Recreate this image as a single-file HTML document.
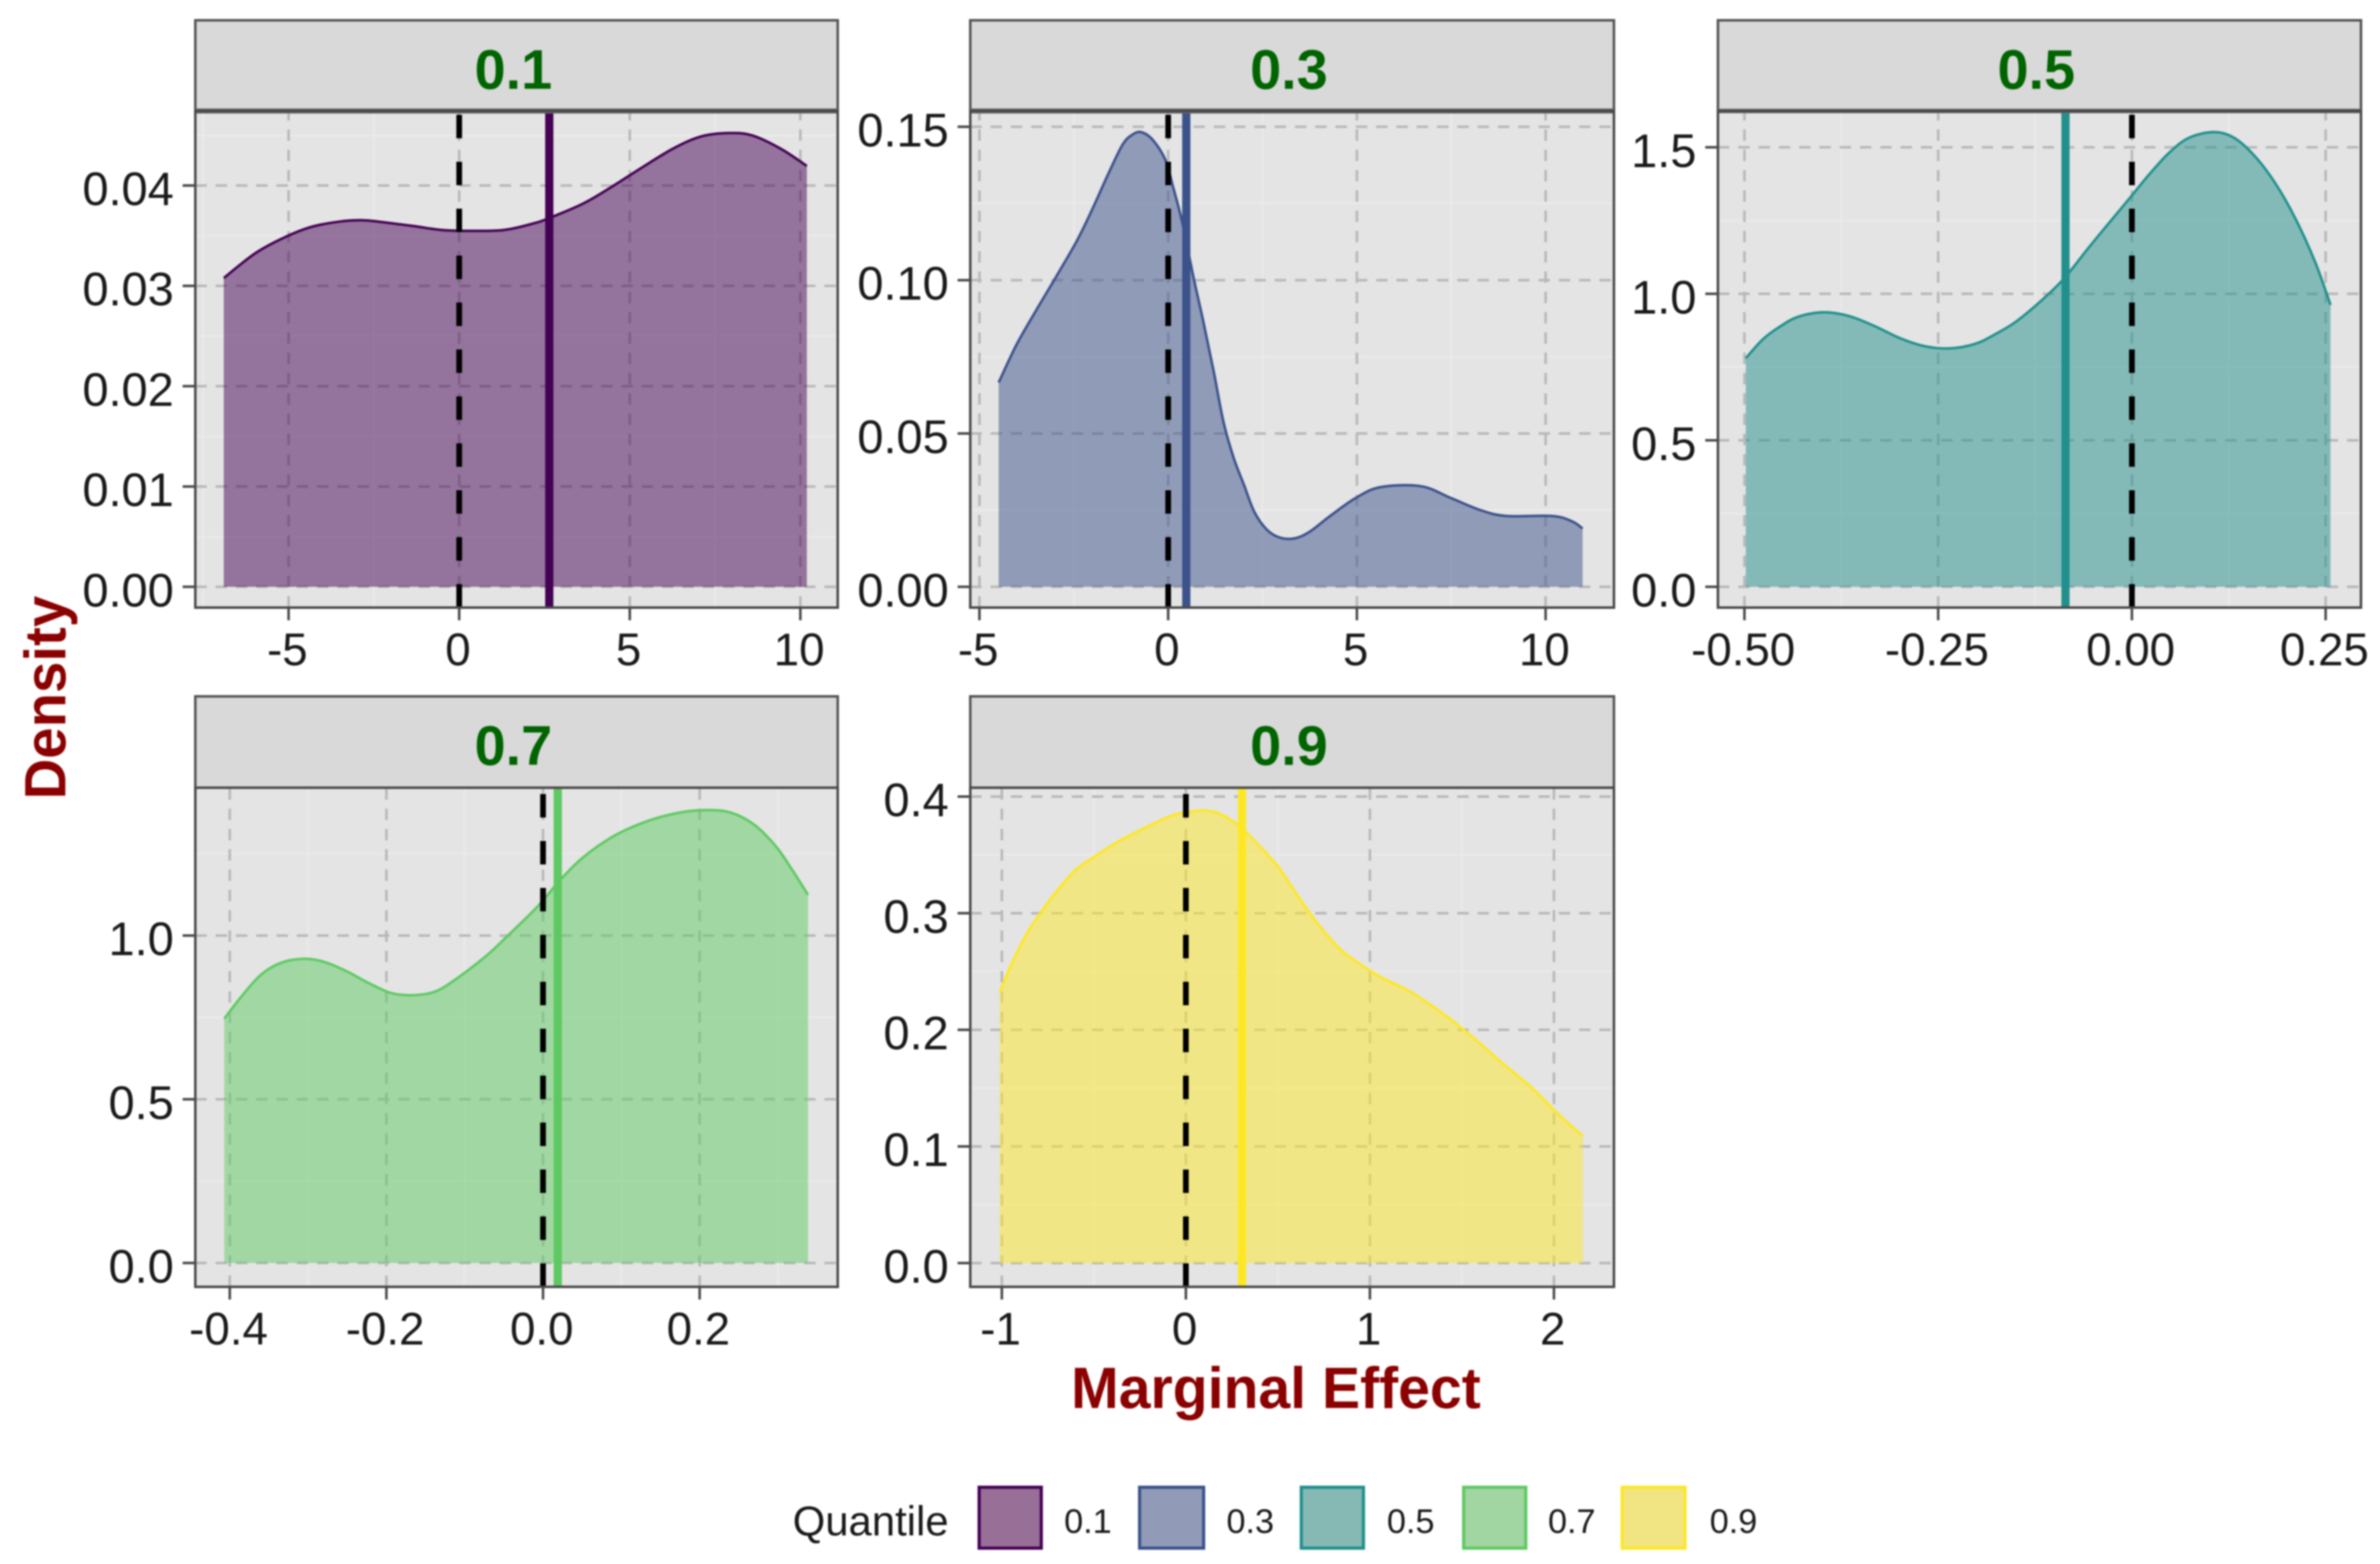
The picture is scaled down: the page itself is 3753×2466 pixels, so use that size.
<!DOCTYPE html>
<html lang="en">
<head>
<meta charset="utf-8">
<title>Marginal effect density by quantile</title>
<style>
  html, body { margin: 0; padding: 0; background: #ffffff; }
  svg { display: block; font-family: "Liberation Sans", Arial, sans-serif; filter: blur(1.2px); }
</style>
</head>
<body>
<svg id="chart" xmlns="http://www.w3.org/2000/svg" width="3753" height="2466" viewBox="0 0 3753 2466">
  <rect x="0" y="0" width="3753" height="2466" fill="#ffffff"/>
  <g id="panels"></g>

  <text transform="translate(103 1100) rotate(-90)" text-anchor="middle" font-size="92" font-weight="700" fill="#8b0000" textLength="321" lengthAdjust="spacingAndGlyphs">Density</text>
  <text x="2012" y="2220" text-anchor="middle" font-size="92" font-weight="700" fill="#8b0000" textLength="646" lengthAdjust="spacingAndGlyphs">Marginal Effect</text>

  <g>
    <text x="1250" y="2421" font-size="66" fill="#1a1a1a">Quantile</text>
    <g>
      <rect x="1544" y="2345" width="98" height="96" fill="#976f97" stroke="#440154" stroke-width="5"/>
      <text x="1678" y="2417" font-size="54" fill="#1a1a1a">0.1</text>
    </g>
    <g>
      <rect x="1797" y="2345" width="101" height="96" fill="#919bb7" stroke="#3b528b" stroke-width="5"/>
      <text x="1934" y="2417" font-size="54" fill="#1a1a1a">0.3</text>
    </g>
    <g>
      <rect x="2052" y="2345" width="98" height="96" fill="#86b8b4" stroke="#21908c" stroke-width="5"/>
      <text x="2187" y="2417" font-size="54" fill="#1a1a1a">0.5</text>
    </g>
    <g>
      <rect x="2308" y="2345" width="98" height="96" fill="#a1d5a1" stroke="#5ec962" stroke-width="5"/>
      <text x="2441" y="2417" font-size="54" fill="#1a1a1a">0.7</text>
    </g>
    <g>
      <rect x="2558" y="2345" width="99" height="96" fill="#f1e483" stroke="#fde725" stroke-width="5"/>
      <text x="2696" y="2417" font-size="54" fill="#1a1a1a">0.9</text>
    </g>
  </g>
</svg>

<script>
// ---- Panel 0.1 ----
const q1X = [-6.90,-5.99,-5.16,-4.33,-3.50,-2.84,-2.17,-1.34,-0.51,0.32,1.31,2.14,2.64,3.63,4.46,5.29,6.29,7.12,7.95,8.61,9.44,10.19];
const q1Y = [.03078,.03322,.03477,.03588,.03641,.03654,.03632,.03596,.03557,.03548,.03557,.03619,.03676,.03820,.03985,.04165,.04372,.04492,.04523,.04497,.04364,.04195];
const q1XTicks = [-5,0,5,10];
const q1XLabels = ["-5","0","5","10"];
const q1YTicks = [0,0.01,0.02,0.03,0.04];
const q1YLabels = ["0.00","0.01","0.02","0.03","0.04"];
const q1Marginal = 2.64;
const q1XDomain = [-7.734,11.095];
const q1YDomain = [-0.00207,0.04743];

// ---- Panel 0.3 ----
const q3X = [-4.49,-4.02,-3.48,-2.95,-2.41,-2.01,-1.61,-1.21,-0.94,-0.70,-0.40,-0.07,0.13,0.37,0.67,0.94,1.21,1.47,1.74,2.01,2.28,2.61,2.95,3.35,3.75,4.29,4.96,5.62,6.70,7.50,8.30,8.97,10.18,10.71,10.98];
const q3Y = [.0666,.0789,.0905,.1015,.1130,.1231,.1340,.1441,.1475,.1482,.1456,.1391,.1304,.1190,.1010,.0860,.0700,.0535,.0419,.0332,.0245,.0187,.0161,.0158,.0180,.0231,.0289,.0325,.0328,.0289,.0249,.0231,.0231,.0213,.0190];
const q3XTicks = [-5,0,5,10];
const q3XLabels = ["-5","0","5","10"];
const q3YTicks = [0,0.05,0.10,0.15];
const q3YLabels = ["0.00","0.05","0.10","0.15"];
const q3Marginal = 0.48;
const q3XDomain = [-5.243,11.81];
const q3YDomain = [-0.00676,0.15515];

// ---- Panel 0.5 ----
const q5X = [-.4983,-.4761,-.4531,-.4303,-.3976,-.3649,-.3322,-.2995,-.2668,-.2341,-.2014,-.1752,-.1491,-.1164,-.0870,-.0575,-.0314,-.0052,.0209,.0471,.0732,.1059,.1321,.1582,.1844,.2106,.2367,.2563];
const q5Y = [.780,.845,.890,.922,.937,.924,.890,.849,.821,.814,.830,.864,.906,.978,1.054,1.152,1.236,1.319,1.403,1.479,1.532,1.552,1.532,1.471,1.380,1.259,1.107,.962];
const q5XTicks = [-0.5,-0.25,0,0.25];
const q5XLabels = ["-0.50","-0.25","0.00","0.25"];
const q5YTicks = [0,0.5,1,1.5];
const q5YLabels = ["0.0","0.5","1.0","1.5"];
const q5Marginal = -0.0857;
const q5XDomain = [-0.5342,0.2956];
const q5YDomain = [-0.0708,1.624];

// ---- Panel 0.7 ----
const q7X = [-.4071,-.3861,-.3608,-.3355,-.3066,-.2813,-.2524,-.2234,-.1945,-.1656,-.1367,-.1077,-.0716,-.0427,-.0065,.0224,.0513,.0875,.1236,.1598,.1960,.2357,.2683,.2972,.3189,.3384];
const q7Y = [.746,.811,.879,.916,.929,.921,.893,.856,.825,.818,.830,.873,.940,1.005,1.090,1.171,1.239,1.300,1.341,1.368,1.382,1.378,1.341,1.273,1.198,1.124];
const q7XTicks = [-0.4,-0.2,0,0.2];
const q7XLabels = ["-0.4","-0.2","0.0","0.2"];
const q7YTicks = [0,0.5,1];
const q7YLabels = ["0.0","0.5","1.0"];
const q7Marginal = 0.0188;
const q7XDomain = [-0.4440,0.3763];
const q7YDomain = [-0.0728,1.4515];

// ---- Panel 0.9 ----
const q9X = [-1.011,-.948,-.865,-.783,-.701,-.604,-.508,-.371,-.234,-.096,-.014,.096,.179,.288,.398,.508,.618,.728,.838,.948,1.058,1.223,1.387,1.552,1.717,1.882,2.019,2.157];
const q9Y = [.2323,.2562,.2822,.3017,.3190,.3364,.3472,.3611,.3723,.3825,.3862,.3880,.3855,.3750,.3580,.3385,.3125,.2887,.2692,.2562,.2453,.2323,.2150,.1946,.1717,.1500,.1283,.1088];
const q9XTicks = [-1,0,1,2];
const q9XLabels = ["-1","0","1","2"];
const q9YTicks = [0,0.1,0.2,0.3,0.4];
const q9YLabels = ["0.0","0.1","0.2","0.3","0.4"];
const q9Marginal = 0.305;
const q9XDomain = [-1.1716,2.326];
const q9YDomain = [-0.0204,0.4076];

// ---- Panel layout ----
const panels = [
  { id:"0.1", color:"#440154", x:q1X, y:q1Y, xTicks:q1XTicks, xLabels:q1XLabels, yTicks:q1YTicks, yLabels:q1YLabels, marginal:q1Marginal, xDomain:q1XDomain, yDomain:q1YDomain, left:308,  right:1321, stripTop:32,   top:175,  bottom:958,  stripRule:8 },
  { id:"0.3", color:"#3b528b", x:q3X, y:q3Y, xTicks:q3XTicks, xLabels:q3XLabels, yTicks:q3YTicks, yLabels:q3YLabels, marginal:q3Marginal, xDomain:q3XDomain, yDomain:q3YDomain, left:1530, right:2545, stripTop:32,   top:175,  bottom:958,  stripRule:8 },
  { id:"0.5", color:"#21908c", x:q5X, y:q5Y, xTicks:q5XTicks, xLabels:q5XLabels, yTicks:q5YTicks, yLabels:q5YLabels, marginal:q5Marginal, xDomain:q5XDomain, yDomain:q5YDomain, left:2709, right:3723, stripTop:32,   top:175,  bottom:958,  stripRule:7 },
  { id:"0.7", color:"#5ec962", x:q7X, y:q7Y, xTicks:q7XTicks, xLabels:q7XLabels, yTicks:q7YTicks, yLabels:q7YLabels, marginal:q7Marginal, xDomain:q7XDomain, yDomain:q7YDomain, left:308,  right:1321, stripTop:1098, top:1242, bottom:2029, stripRule:4 },
  { id:"0.9", color:"#fde725", x:q9X, y:q9Y, xTicks:q9XTicks, xLabels:q9XLabels, yTicks:q9YTicks, yLabels:q9YLabels, marginal:q9Marginal, xDomain:q9XDomain, yDomain:q9YDomain, left:1530, right:2545, stripTop:1098, top:1242, bottom:2029, stripRule:4 }
];

const NS = "http://www.w3.org/2000/svg";
function make(parent, tag, props) {
  const node = document.createElementNS(NS, tag);
  for (const key in props) node.setAttribute(key, props[key]);
  parent.appendChild(node);
  return node;
}
function linear(domain, r0, r1) {
  return v => r0 + (v - domain[0]) / (domain[1] - domain[0]) * (r1 - r0);
}
function midpoints(ticks, domain) {
  const step = ticks[1] - ticks[0];
  const out = [];
  for (let v = ticks[0] - step / 2; v < domain[1]; v += step) {
    if (v > domain[0]) out.push(v);
  }
  return out;
}
function smoothPath(pts) {
  let d = "";
  for (let i = 0; i < pts.length - 1; i++) {
    const p0 = pts[Math.max(i - 1, 0)], p1 = pts[i], p2 = pts[i + 1], p3 = pts[Math.min(i + 2, pts.length - 1)];
    const c1x = p1[0] + (p2[0] - p0[0]) / 6, c1y = p1[1] + (p2[1] - p0[1]) / 6;
    const c2x = p2[0] - (p3[0] - p1[0]) / 6, c2y = p2[1] - (p3[1] - p1[1]) / 6;
    d += " C" + c1x.toFixed(1) + " " + c1y.toFixed(1) + " " + c2x.toFixed(1) + " " + c2y.toFixed(1) + " " + p2[0].toFixed(1) + " " + p2[1].toFixed(1);
  }
  return d;
}

const root = document.getElementById("panels");

panels.forEach(p => {
  const sx = linear(p.xDomain, p.left, p.right);
  const sy = linear(p.yDomain, p.bottom, p.top);
  const w = p.right - p.left;

  const g = make(root, "g", {});
  
  

  const bg = make(g, "rect", { x:p.left, y:p.top, width:w, height:p.bottom - p.top, fill:"#e4e4e4" });
  
  

  midpoints(p.xTicks, p.xDomain).forEach(v => {
    const el = make(g, "line", { x1:sx(v), x2:sx(v), y1:p.top, y2:p.bottom, stroke:"#eaeaea", "stroke-width":3 });
    
    
  });
  midpoints(p.yTicks, p.yDomain).forEach(v => {
    const el = make(g, "line", { x1:p.left, x2:p.right, y1:sy(v), y2:sy(v), stroke:"#eaeaea", "stroke-width":3 });
    
    
  });
  p.xTicks.forEach(v => {
    const el = make(g, "line", { x1:sx(v), x2:sx(v), y1:p.bottom, y2:p.top, stroke:"#b8b8b8", "stroke-width":4, "stroke-dasharray":"18 14" });
    
    
  });
  p.yTicks.forEach(v => {
    const el = make(g, "line", { x1:p.left, x2:p.right, y1:sy(v), y2:sy(v), stroke:"#b8b8b8", "stroke-width":4, "stroke-dasharray":"18 14" });
    
    
  });

  const pts = p.x.map((v, i) => [sx(v), sy(p.y[i])]);
  const curve = smoothPath(pts);
  const base = sy(0);
  const first = pts[0], last = pts[pts.length - 1];

  const area = make(g, "path", {
    d:"M" + first[0].toFixed(1) + " " + base.toFixed(1) + " L" + first[0].toFixed(1) + " " + first[1].toFixed(1) + curve + " L" + last[0].toFixed(1) + " " + base.toFixed(1) + " Z",
    fill:p.color, "fill-opacity":0.5
  });
  
  

  const line = make(g, "path", {
    d:"M" + first[0].toFixed(1) + " " + first[1].toFixed(1) + curve,
    fill:"none", stroke:p.color, "stroke-width":4
  });
  
  

  const zero = make(g, "line", { x1:sx(0), x2:sx(0), y1:p.bottom, y2:p.top, stroke:"#000000", "stroke-width":9, "stroke-dasharray":"37 37" });
  
  

  const mean = make(g, "line", { x1:sx(p.marginal), x2:sx(p.marginal), y1:p.bottom, y2:p.top, stroke:p.color, "stroke-width":13 });
  
  

  const strip = make(g, "rect", { x:p.left, y:p.stripTop, width:w, height:p.top - p.stripTop, fill:"#d9d9d9", stroke:"#555555", "stroke-width":4 });
  
  

  const rule = make(g, "line", { x1:p.left, x2:p.right, y1:p.top, y2:p.top, stroke:"#666666", "stroke-width":p.stripRule });
  
  

  const stripLabel = make(g, "text", { x:(p.left + p.right) / 2 - 5, y:p.stripTop + 108, "text-anchor":"middle", "font-size":88, "font-weight":700, fill:"#006400" });
  stripLabel.textContent = p.id;
  
  

  const border = make(g, "rect", { x:p.left, y:p.top, width:w, height:p.bottom - p.top, fill:"none", stroke:"#4a4a4a", "stroke-width":4 });
  
  

  p.xTicks.forEach((v, i) => {
    const tick = make(g, "line", { x1:sx(v), x2:sx(v), y1:p.bottom, y2:p.bottom + 20, stroke:"#4a4a4a", "stroke-width":4 });
    
    
    const label = make(g, "text", { x:sx(v) - 2, y:p.bottom + 91, "text-anchor":"middle", "font-size":72, fill:"#1a1a1a" });
    label.textContent = p.xLabels[i];
    
    
  });
  p.yTicks.forEach((v, i) => {
    const tick = make(g, "line", { x1:p.left - 20, x2:p.left, y1:sy(v), y2:sy(v), stroke:"#4a4a4a", "stroke-width":4 });
    
    
    const label = make(g, "text", { x:p.left - 34, y:sy(v) + 31, "text-anchor":"end", "font-size":74, fill:"#1a1a1a" });
    label.textContent = p.yLabels[i];
    
    
  });
});
</script>
</body>
</html>
